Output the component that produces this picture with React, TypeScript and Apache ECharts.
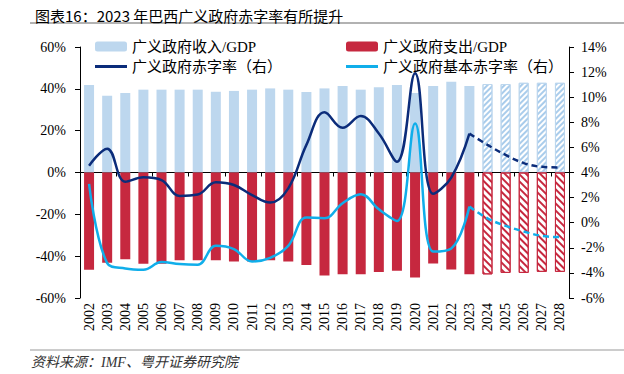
import React, { useEffect, useRef } from 'react';
import * as echarts from 'echarts';

const years = ['2002','2003','2004','2005','2006','2007','2008','2009','2010','2011','2012','2013','2014','2015','2016','2017','2018','2019','2020','2021','2022','2023','2024','2025','2026','2027','2028'];
const revenue = [41.8, 36.7, 38.0, 39.6, 39.6, 39.6, 39.6, 38.6, 39.0, 39.6, 40.2, 39.6, 38.5, 40.2, 41.3, 39.6, 40.7, 41.8, 38.0, 41.3, 43.4, 41.3, 42.3, 42.3, 42.9, 42.9, 42.9];
const expenditure = [-46.5, -43.1, -41.5, -43.6, -43.6, -42.0, -42.0, -42.0, -42.5, -42.5, -42.0, -42.5, -44.2, -49.3, -48.7, -48.7, -47.6, -47.0, -50.2, -43.5, -46.4, -48.7, -48.7, -48.0, -48.0, -47.5, -47.5];
const deficitActual = [4.54, 5.9, 3.27, 3.62, 3.4, 2.13, 2.24, 3.22, 3.0, 2.2, 1.6, 2.74, 6.2, 8.8, 7.56, 8.5, 7.1, 4.86, 11.9, 2.3, 3.6, 7.1];
const deficitForecast = [6.2, 5.4, 4.75, 4.45, 4.4];
const primaryActual = [3.09, -3.22, -3.65, -3.75, -3.14, -3.3, -3.35, -1.84, -2.1, -3.09, -2.8, -1.84, 0.42, 0.36, 1.55, 2.27, 1.07, 0.14, 7.9, -2.3, -2.05, 1.28];
const primaryForecast = [0.35, -0.25, -0.7, -1.05, -1.15];
const leftAxis = { min: -60, max: 60, interval: 20 };
const rightAxis = { min: -6, max: 14, interval: 2 };
const firstForecast = deficitActual.length; // index of 2024

const C_REV = '#BDD7EE';
const C_REV_STRIPE = '#A9CCEB';
const C_EXP = '#C6283F';
const C_DEF = '#0B2C7A';
const C_PRI = '#10AEEA';
const SERIF = "'Times New Roman', 'Liberation Serif', 'Noto Sans CJK SC', serif";

export default function App() {
  const ref = useRef<HTMLDivElement>(null);
  useEffect(() => {
    if (!ref.current) return;
    const chart = echarts.init(ref.current, null, { renderer: 'svg' });
    const deficitSolid = years.map((_, i) => (i < firstForecast ? deficitActual[i] : '-'));
    const deficitDash = years.map((_, i) => (i === firstForecast - 1 ? deficitActual[i] : i >= firstForecast ? deficitForecast[i - firstForecast] : '-'));
    const primarySolid = years.map((_, i) => (i < firstForecast ? primaryActual[i] : '-'));
    const primaryDash = years.map((_, i) => (i === firstForecast - 1 ? primaryActual[i] : i >= firstForecast ? primaryForecast[i - firstForecast] : '-'));
    const revData = revenue.map((v, i) =>
      i >= firstForecast
        ? {
            value: v,
            itemStyle: {
              color: '#ffffff',
              borderColor: C_REV,
              borderWidth: 1,
              decal: { symbol: 'rect', symbolSize: 1, color: C_REV_STRIPE, dashArrayX: [1, 0], dashArrayY: [2, 2], rotation: -Math.PI / 4 },
            },
          }
        : v
    );
    const expData = expenditure.map((v, i) =>
      i >= firstForecast
        ? {
            value: v,
            itemStyle: {
              color: '#ffffff',
              borderColor: C_EXP,
              borderWidth: 1,
              decal: { symbol: 'rect', symbolSize: 1, color: C_EXP, dashArrayX: [1, 0], dashArrayY: [1.5, 2.5], rotation: Math.PI / 4 },
            },
          }
        : v
    );
    const legendText = { fontSize: 15, color: '#000', fontFamily: SERIF };
    const mkLegend = (name: string, left: number, top: number, isLine: boolean) => ({
      data: [isLine ? { name, icon: 'rect' } : name],
      left,
      top,
      itemWidth: 32,
      itemHeight: isLine ? 3 : 10,
      itemGap: 6,
      textStyle: legendText,
      selectedMode: false,
    });
    chart.setOption({
      animation: false,
      backgroundColor: '#ffffff',
      title: {
        text: '图表16：2023 年巴西广义政府赤字率有所提升',
        left: 30,
        top: 3,
        textStyle: { fontSize: 15, fontWeight: 'normal', color: '#000', fontFamily: "'Noto Sans CJK SC', sans-serif" },
      },
      legend: [
        mkLegend('广义政府收入/GDP', 90, 34, false),
        mkLegend('广义政府支出/GDP', 341, 34, false),
        mkLegend('广义政府赤字率（右）', 90, 54, true),
        mkLegend('广义政府基本赤字率（右）', 341, 54, true),
      ],
      graphic: [
        { type: 'line', shape: { x1: 30, y1: 23, x2: 624, y2: 23 }, style: { stroke: '#999', lineWidth: 1.5 } },
        { type: 'line', shape: { x1: 30, y1: 350, x2: 624, y2: 350 }, style: { stroke: '#bbb', lineWidth: 1.5 } },
        {
          type: 'text',
          left: 31,
          top: 355,
          style: { text: '资料来源：IMF、粤开证券研究院', font: "italic 14px 'Times New Roman', 'Liberation Serif', 'Noto Sans CJK SC', serif", fill: '#333' },
        },
      ],
      grid: { left: 80, right: 55, top: 47, bottom: 76 },
      xAxis: [
        {
          type: 'category',
          data: years,
          position: 'bottom',
          axisLine: { show: false },
          axisTick: { show: false },
          axisLabel: { rotate: 90, margin: 5, fontSize: 14, color: '#000', fontFamily: SERIF, interval: 0 },
        },
        {
          type: 'category',
          data: years,
          position: 'bottom',
          axisLine: { show: true, onZero: true, onZeroAxisIndex: 0, lineStyle: { color: '#000', width: 1 } },
          axisTick: { show: true, length: 4, lineStyle: { color: '#000' } },
          axisLabel: { show: false },
        },
      ],
      yAxis: [
        {
          type: 'value',
          min: leftAxis.min,
          max: leftAxis.max,
          interval: leftAxis.interval,
          axisLine: { show: true, lineStyle: { color: '#000' } },
          axisTick: { show: true, length: 5, lineStyle: { color: '#000' } },
          splitLine: { show: false },
          axisLabel: { formatter: '{value}%', fontSize: 14, color: '#000', fontFamily: SERIF, margin: 14 },
        },
        {
          type: 'value',
          min: rightAxis.min,
          max: rightAxis.max,
          interval: rightAxis.interval,
          axisLine: { show: true, lineStyle: { color: '#000' } },
          axisTick: { show: true, length: 5, lineStyle: { color: '#000' } },
          splitLine: { show: false },
          axisLabel: { formatter: '{value}%', fontSize: 14, color: '#000', fontFamily: SERIF, margin: 12 },
        },
      ],
      series: [
        { name: '广义政府收入/GDP', type: 'bar', xAxisIndex: 0, yAxisIndex: 0, data: revData, barWidth: 10, barGap: '-100%', itemStyle: { color: C_REV } },
        { name: '广义政府支出/GDP', type: 'bar', xAxisIndex: 0, yAxisIndex: 0, data: expData, barWidth: 10, barGap: '-100%', itemStyle: { color: C_EXP } },
        { name: '广义政府赤字率（右）', type: 'line', xAxisIndex: 0, yAxisIndex: 1, data: deficitSolid, smooth: 0.4, symbol: 'none', lineStyle: { color: C_DEF, width: 2.5 }, itemStyle: { color: C_DEF } },
        { name: '广义政府基本赤字率（右）', type: 'line', xAxisIndex: 0, yAxisIndex: 1, data: primarySolid, smooth: 0.4, symbol: 'none', lineStyle: { color: C_PRI, width: 2.5 }, itemStyle: { color: C_PRI } },
        { name: 'deficitForecast', type: 'line', xAxisIndex: 0, yAxisIndex: 1, data: deficitDash, smooth: 0.4, symbol: 'none', lineStyle: { color: C_DEF, width: 2.5, type: [6, 4] } },
        { name: 'primaryForecast', type: 'line', xAxisIndex: 0, yAxisIndex: 1, data: primaryDash, smooth: 0.4, symbol: 'none', lineStyle: { color: C_PRI, width: 2.5, type: [6, 4] } },
      ],
    });
    return () => chart.dispose();
  }, []);
  return <div ref={ref} style={{ position: 'absolute', left: 0, top: 0, width: 624, height: 374 }} />;
}
